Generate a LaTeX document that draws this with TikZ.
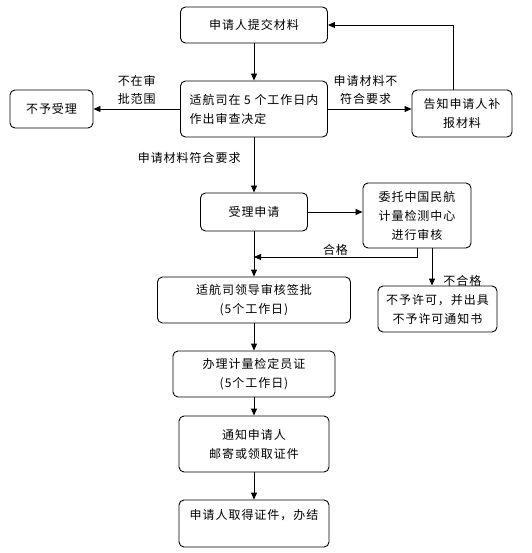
\documentclass[tikz,border=0pt]{standalone}
\usepackage{fontspec}
\newfontfamily\cjk{Noto Sans CJK SC}
\usetikzlibrary{arrows.meta,calc}

\begin{document}
\begin{tikzpicture}[
    x=1pt, y=-1pt,
    box/.style={draw, rounded corners=5pt, line width=0.9pt, align=center, inner sep=2pt,
                font=\cjk\fontsize{12}{19}\selectfont\addfontfeatures{LetterSpace=8}},
    lbl/.style={align=center, inner sep=1pt,
                font=\cjk\fontsize{12}{18}\selectfont\addfontfeatures{LetterSpace=8}},
    arr/.style={-{Triangle[length=7pt,width=6pt]}, line width=0.9pt},
  ]
  \useasboundingbox (0,0) rectangle (531,553);

  % main column
  \node[box, minimum width=147pt, minimum height=36pt] (submit) at (254,25) {申请人提交材料};
  \node[box, minimum width=147pt, minimum height=56pt, align=left] (review) at (254,109)
    {适航司在 5 个工作日内\\作出审查决定};
  \node[box, minimum width=83pt, minimum height=38pt] (refuse) at (51.5,109) {不予受理};
  \node[box, minimum width=100pt, minimum height=47pt] (inform) at (462,113.5) {告知申请人补\\报材料};
  \node[box, minimum width=107pt, minimum height=38pt] (accept) at (254,212) {受理申请};
  \node[box, minimum width=108pt, minimum height=65pt] (entrust) at (417,215.5)
    {委托中国民航\\计量检测中心\\进行审核};
  \node[box, minimum width=193pt, minimum height=46pt] (leader) at (254,300)
    {适航司领导审核签批\\(5个工作日)};
  \node[box, minimum width=119pt, minimum height=46pt] (deny) at (437.5,309)
    {不予许可，并出具\\不予许可通知书};
  \node[box, minimum width=162pt, minimum height=46pt] (cert) at (254,374)
    {办理计量检定员证\\(5个工作日)};
  \node[box, minimum width=150pt, minimum height=56pt] (notify) at (254,444)
    {通知申请人\\邮寄或领取证件};
  \node[box, minimum width=150pt, minimum height=47pt] (done) at (254,523.5)
    {申请人取得证件，办结\\~};

  \coordinate (merge) at (accept.south |- 0,257);

  % connectors
  \draw[arr] (submit) -- (review);
  \draw[arr] (review.west) -- (refuse.east)
    node[lbl, pos=0.5, above=3pt] (outscope) {不在审\\批范围};
  \draw[arr] (review.east) -- (review.east -| inform.west)
    node[lbl, pos=0.45, above=3pt] (lacking) {申请材料不\\符合要求};
  \draw[arr] ([xshift=-9pt]inform.north) |- (submit.east);
  \draw[arr] (review) -- (accept)
    node[lbl, pos=0.38, left=12pt] (meets) {申请材料符合要求};
  \draw[arr] (accept.east) -- (accept.east -| entrust.west);
  \draw[arr] (entrust.south) |- (merge)
    node[lbl, pos=0.75, above=0pt] (pass) {合格};
  \draw[arr] (accept) -- (leader);
  \draw[arr] ([xshift=15pt]entrust.south) -- ([xshift=15pt]entrust.south |- deny.north)
    node[lbl, pos=0.88, right=10pt] (fail) {不合格};
  \draw[arr] (leader) -- (cert);
  \draw[arr] (cert) -- (notify);
  \draw[arr] (notify) -- (done);
\end{tikzpicture}
\end{document}
